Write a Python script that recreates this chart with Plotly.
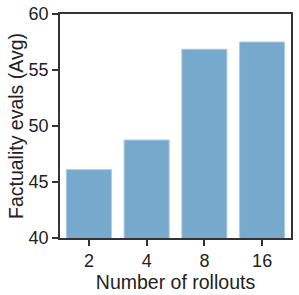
import plotly.graph_objects as go

categories = ["2", "4", "8", "16"]
values = [46.1, 48.75, 56.85, 57.5]

FONT = "Liberation Sans, Arial"

fig = go.Figure(go.Bar(
    x=categories, y=values,
    marker=dict(color="#76a9cc", line=dict(color="#a9cbe2", width=1)),
))

axis_common = dict(
    showline=True, linecolor="#333333", linewidth=1.5, mirror=True,
    ticks="outside", ticklen=6, tickwidth=1.5, tickcolor="#333333",
    showgrid=False, zeroline=False, automargin=False,
    tickfont=dict(family=FONT, size=18, color="#222222"),
)

fig.update_layout(
    width=299, height=295,
    margin=dict(l=60, r=8, t=14, b=57),
    plot_bgcolor="white", paper_bgcolor="white",
    bargap=0.22,
    showlegend=False,
    xaxis=dict(**axis_common, title=dict(text="Number of rollouts", standoff=2,
               font=dict(family=FONT, size=19.5, color="#222222"))),
    yaxis=dict(**axis_common, range=[40, 60], tickvals=[40, 45, 50, 55, 60],
               title=dict(text="Factuality evals (Avg)", standoff=0,
               font=dict(family=FONT, size=19.5, color="#222222"))),
)

fig.write_html("out.html",
               config={"displayModeBar": False},
               post_script="document.body.style.margin='0';document.body.style.overflow='hidden';")
